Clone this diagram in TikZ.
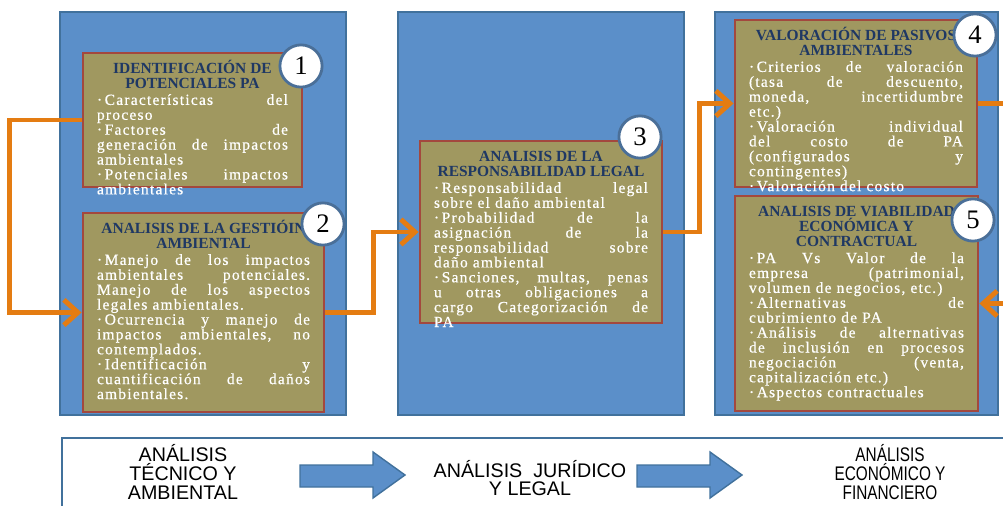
\documentclass[tikz,border=0pt]{standalone}
\usepackage{fontspec}
\usepackage{graphicx}
\setmainfont{Liberation Serif}
\newfontfamily\bodyfont[LetterSpace=8,FakeBold=0.6]{Liberation Serif}
\newfontfamily\titlefont{Liberation Serif}
\newfontfamily\labelfont{Liberation Sans}
\usetikzlibrary{arrows.meta}
\definecolor{panelblue}{HTML}{5B8FC9}
\definecolor{paneledge}{HTML}{41719C}
\definecolor{olive}{HTML}{A09860}
\definecolor{oliveedge}{HTML}{A3483E}
\definecolor{titleblue}{HTML}{1F3864}
\definecolor{flowline}{HTML}{E47C12}
\definecolor{circleedge}{HTML}{4A6F98}
\newdimen\px
\px=0.025cm
\newcommand{\boxtext}[4]{%
\parbox[c][#2\px][t]{\dimexpr#1\px-28\px\relax}{%
\vspace*{4.5pt}%
{\centering\titlefont\bfseries\fontsize{11}{10.8}\selectfont\color{titleblue}\rule{0pt}{9.8pt}#3\par}%
\vspace{1.2pt}%
{\bodyfont\fontsize{11}{10.6}\selectfont\color{white}#4\par}}}

\begin{document}
\begin{tikzpicture}[x=0.025cm,y=-0.025cm,
  panel/.style={draw=paneledge,fill=panelblue,line width=1.8pt},
  olivebox/.style={draw=oliveedge,fill=olive,line width=2pt,inner xsep=9.96pt,inner ysep=0pt},
  numcircle/.style={circle,draw=circleedge,fill=white,line width=2pt,minimum size=30pt,inner sep=0pt,font=\fontsize{19}{19}\selectfont},
  flow/.style={draw=flowline,line width=3.5pt,-{Straight Barb[length=10pt,width=18pt]}},
  bigarrow/.style={fill=panelblue,draw=paneledge,line width=1pt},
  frame/.style={draw=paneledge,line width=1.8pt},
  bottomtext/.style={align=center,font=\labelfont\fontsize{14}{13.2}\selectfont}]
\useasboundingbox (0,0) rectangle (1003,505);
\clip (0,0) rectangle (1003,505);
\draw[panel] (60,12) rectangle (346,415);
\draw[panel] (398,12) rectangle (684,415);
\draw[panel] (715,12) rectangle (998,415);

\node[olivebox] (ident) at (192.5,120) {\boxtext{219}{134}{IDENTIFICACIÓN DE\\POTENCIALES PA}{%
·\,Características del\linebreak proceso\par
·\,Factores de\linebreak generación de impactos\linebreak ambientales\par
·\,Potenciales impactos\linebreak ambientales}};
\node[olivebox] (gestion) at (203.5,312.5) {\boxtext{241}{199}{ANALISIS DE LA GESTIÓIN\\AMBIENTAL}{%
·\,Manejo de los impactos\linebreak ambientales potenciales.\linebreak Manejo de los aspectos\linebreak legales ambientales.\par
·\,Ocurrencia y manejo de\linebreak impactos ambientales, no\linebreak contemplados.\par
·\,Identificación y\linebreak cuantificación de daños\linebreak ambientales.}};
\node[olivebox] (respons) at (541,232) {\boxtext{242}{182}{ANALISIS DE LA\\RESPONSABILIDAD LEGAL}{%
·\,Responsabilidad legal\linebreak sobre el daño ambiental\par
·\,Probabilidad de la\linebreak asignación de la\linebreak responsabilidad sobre\linebreak daño ambiental\par
·\,Sanciones, multas, penas\linebreak u otras obligaciones a\linebreak cargo Categorización de\linebreak PA}};
\node[olivebox] (valor) at (856,103.5) {\boxtext{242}{167}{VALORACIÓN DE PASIVOS\\AMBIENTALES}{%
·\,Criterios de valoración\linebreak (tasa de descuento,\linebreak moneda, incertidumbre\linebreak etc.)\par
·\,Valoración individual\linebreak del costo de PA\linebreak (configurados y\linebreak contingentes)\par
·\,Valoración del costo}};
\node[olivebox] (viab) at (856.5,303.5) {\boxtext{243}{215}{ANALISIS DE VIABILIDAD\\ECONÓMICA Y\\CONTRACTUAL}{%
·\,PA Vs Valor de la\linebreak empresa (patrimonial,\linebreak volumen de negocios, etc.)\par
·\,Alternativas de\linebreak cubrimiento de PA\par
·\,Análisis de alternativas\linebreak de inclusión en procesos\linebreak negociación (venta,\linebreak capitalización etc.)\par
·\,Aspectos contractuales}};

\draw[flow] (ident.west) -- ++(-72,0) |- (gestion.west);
\draw[flow] (gestion.east) -- ++(48,0) |- (respons.west);
\draw[flow] (respons.east) -- ++(36,0) |- (valor.west);
\draw[flow] (valor.east) -- ++(40,0) |- (viab.east);

\node[numcircle] (n1) at (301,66) {1};
\node[numcircle] (n2) at (323,224) {2};
\node[numcircle] (n3) at (640,137) {3};
\node[numcircle] (n4) at (975,35) {4};
\node[numcircle] (n5) at (973,220) {5};

\draw[frame] (62,438) rectangle (1015,515);
\foreach \s in {0,337}{
	\draw[bigarrow] ({300+\s},465) -- ({373+\s},465) -- ({373+\s},452) -- ({405+\s},475)
		-- ({373+\s},498) -- ({373+\s},487) -- ({300+\s},487) -- cycle;
}
\node[bottomtext] (tecnico) at (183,472) {ANÁLISIS\\TÉCNICO Y\\AMBIENTAL};
\node[bottomtext] (juridico) at (530,478) {ANÁLISIS\ \ JURÍDICO\\Y LEGAL};
\node[bottomtext] (economico) at (890,472) {\scalebox{0.78}[1]{\parbox{130pt}{\centering ANÁLISIS\\ECONÓMICO Y\\FINANCIERO}}};
\end{tikzpicture}
\end{document}
